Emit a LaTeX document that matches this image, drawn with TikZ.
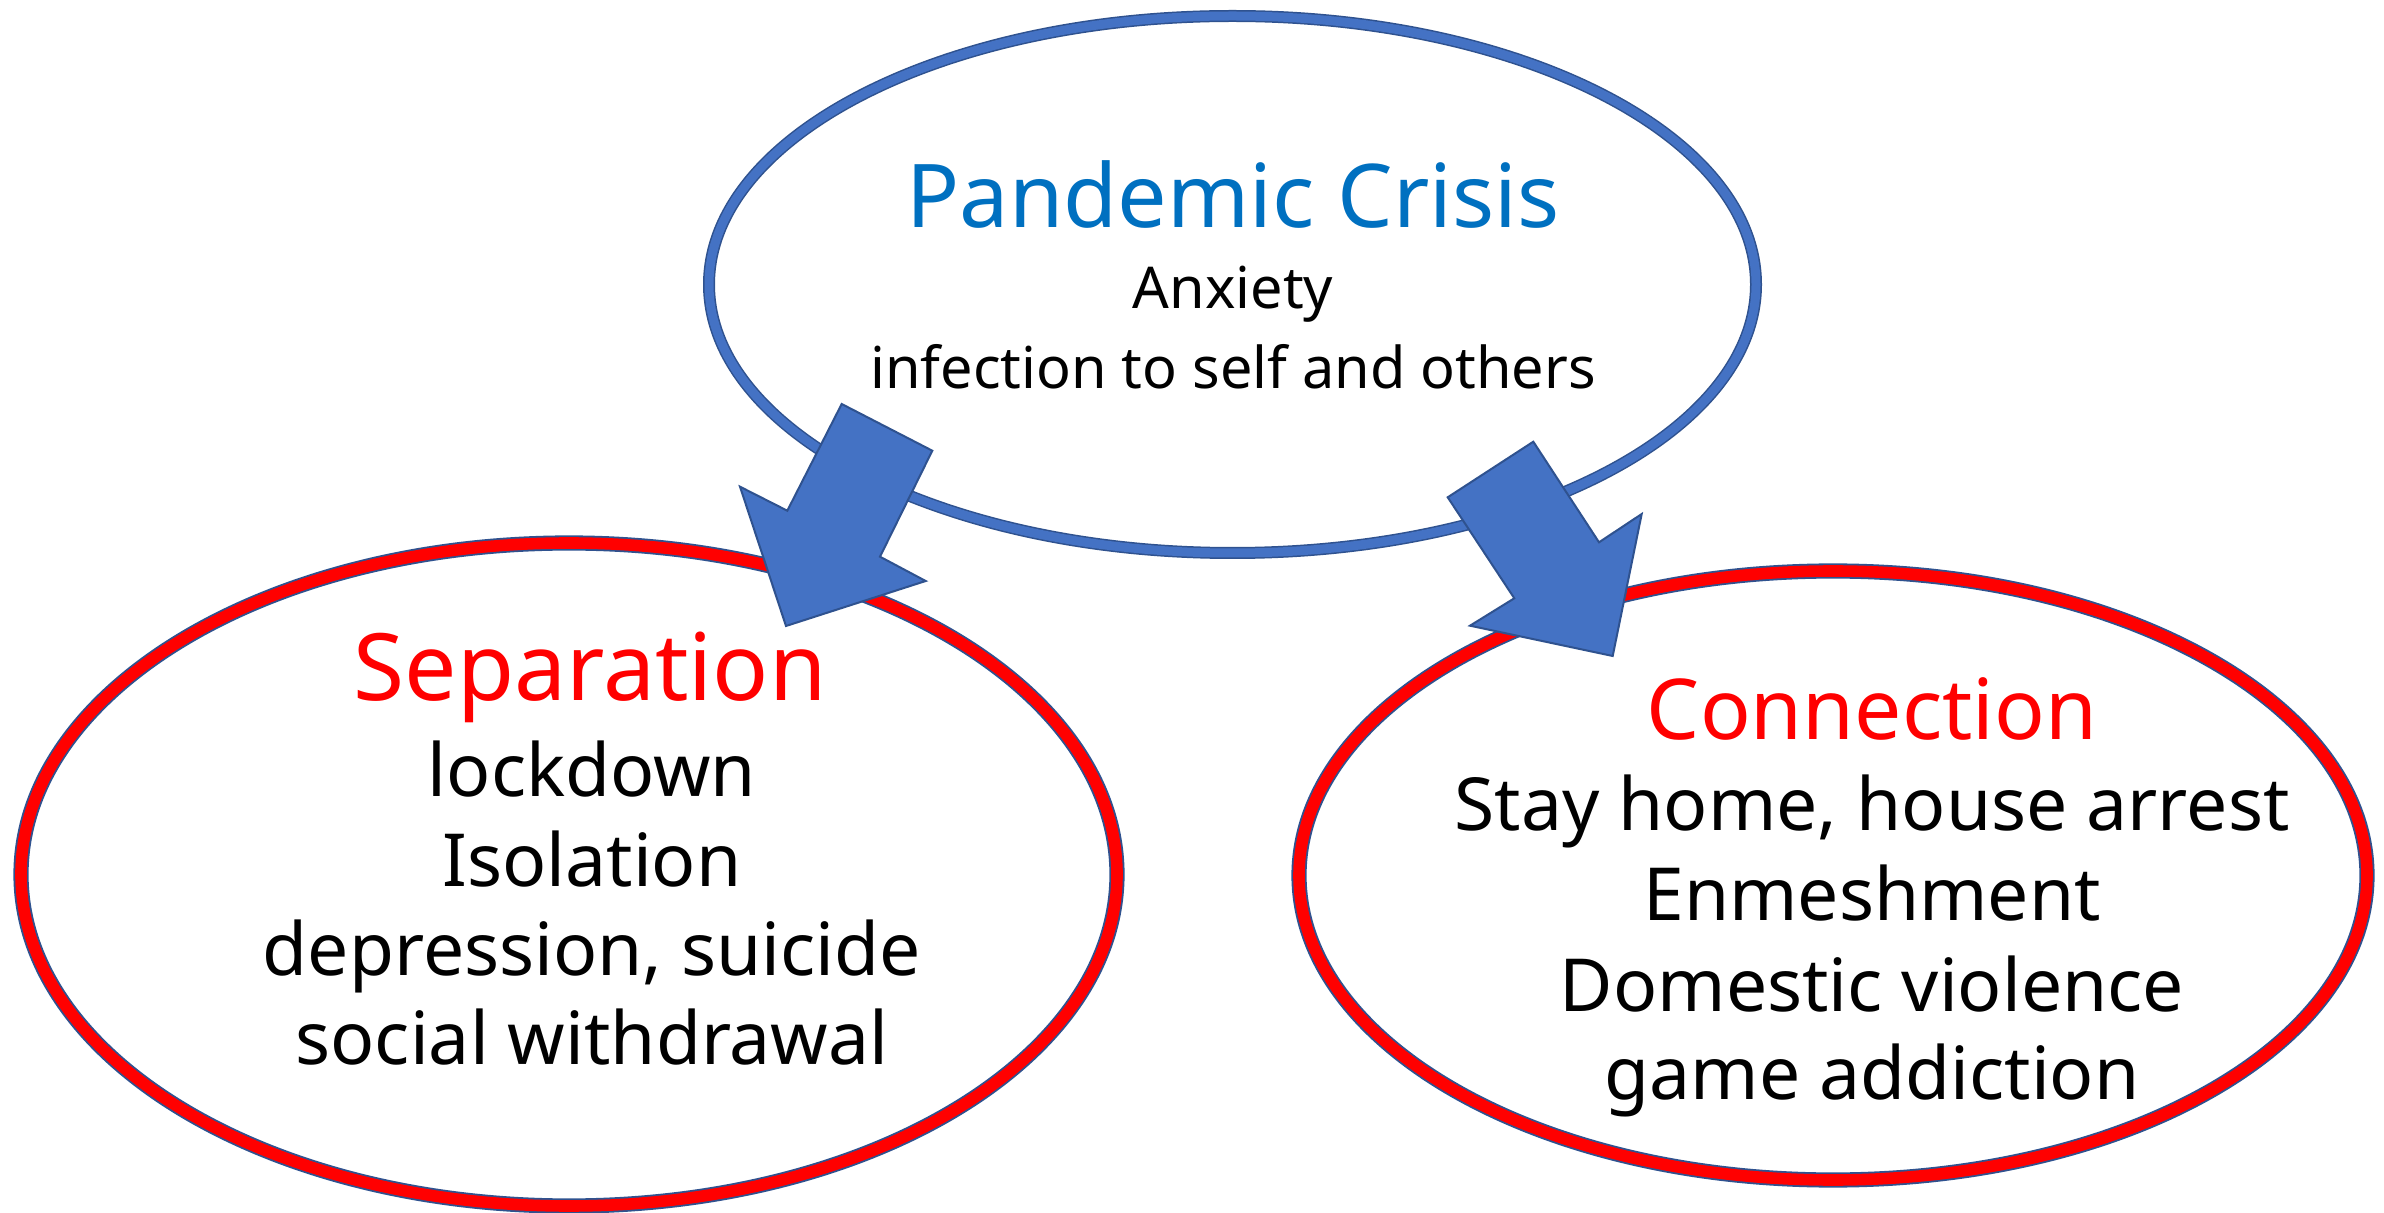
\documentclass[tikz,border=0pt]{standalone}
\usepackage{fontspec}
\setmainfont{Noto Sans}
\usetikzlibrary{shapes.geometric}
\definecolor{ablue}{HTML}{4472C4}
\definecolor{dblue}{HTML}{2F528F}
\definecolor{tblue}{HTML}{0070C0}
\definecolor{tred}{HTML}{FF0000}
\tikzset{
  topell/.style={ellipse, draw=dblue, line width=0.75pt, double=ablue, double distance=4.5pt, inner sep=0pt},
  redell/.style={ellipse, draw=dblue, line width=0.9pt, double=tred, double distance=5.8pt, inner sep=0pt},
  blockarrow/.style={fill=ablue, draw=dblue, line width=1pt, line join=miter},
  lbl/.style={anchor=base, inner sep=0pt, text=black},
}
\begin{document}
\begin{tikzpicture}[x=0.5pt,y=-0.5pt]
\path[use as bounding box, fill=white] (0,0) rectangle (2384,1213);
% ellipses
\node[topell, minimum width=523.5pt, minimum height=268.5pt] (crisis) at (1232.5,284.5) {};
\node[redell, minimum width=548pt, minimum height=331.5pt] (sep) at (569,874.5) {};
\node[redell, minimum width=534pt, minimum height=304.5pt] (con) at (1833,875.5) {};
% block arrows
\draw[blockarrow] (841.7,404) -- (932.3,450.7) -- (880,556.7) -- (925.7,581) -- (786,626) -- (740,486.7) -- (787.3,510.7) -- cycle;
\draw[blockarrow] (1533.3,441.7) -- (1599,542.3) -- (1641.7,514) -- (1612.7,656) -- (1470,625.7) -- (1514.3,598.3) -- (1447.7,497.3) -- cycle;
% top texts
\node[lbl, text=tblue, font=\fontsize{44}{50}\selectfont] (t1) at (1233,228) {Pandemic Crisis};
\node[lbl, font=\fontsize{28.8}{34}\selectfont] (t2) at (1233,309) {Anxiety};
\node[lbl, font=\fontsize{28.8}{34}\selectfont] (t3) at (1233,389) {infection to self and others};
% left texts
\node[lbl, text=tred, font=\fontsize{46.5}{52}\selectfont] (s1) at (590,701) {Separation};
\node[lbl, font=\fontsize{36.6}{42}\selectfont] (s2) at (592,797) {lockdown};
\node[lbl, font=\fontsize{36.6}{42}\selectfont] (s3) at (592,886) {Isolation};
\node[lbl, font=\fontsize{36.6}{42}\selectfont] (s4) at (592,975) {depression, suicide};
\node[lbl, font=\fontsize{36.6}{42}\selectfont] (s5) at (592,1064) {social withdrawal};
% right texts
\node[lbl, text=tred, font=\fontsize{42}{50}\selectfont] (c1) at (1872,740) {Connection};
\node[lbl, font=\fontsize{36.6}{42}\selectfont] (c2) at (1872,830) {Stay home, house arrest};
\node[lbl, font=\fontsize{36.6}{42}\selectfont] (c3) at (1872,920) {Enmeshment};
\node[lbl, font=\fontsize{36.6}{42}\selectfont] (c4) at (1872,1011) {Domestic violence};
\node[lbl, font=\fontsize{36.6}{42}\selectfont] (c5) at (1872,1099) {game addiction};
\end{tikzpicture}
\end{document}
